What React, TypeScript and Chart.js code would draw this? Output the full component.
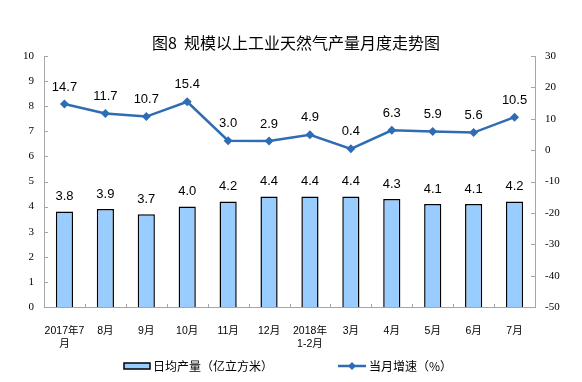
import React, { useEffect, useRef } from "react";
import { Chart, registerables } from "chart.js";

Chart.register(...registerables);

const categories: (string | string[])[] = [
  ["2017年7", "月"], "8月", "9月", "10月", "11月", "12月",
  ["2018年", "1-2月"], "3月", "4月", "5月", "6月", "7月",
];
const dailyOutput = [3.8, 3.9, 3.7, 4.0, 4.2, 4.4, 4.4, 4.4, 4.3, 4.1, 4.1, 4.2];
const growthRate = [14.7, 11.7, 10.7, 15.4, 3.0, 2.9, 4.9, 0.4, 6.3, 5.9, 5.6, 10.5];
const leftMin = 0;
const leftMax = 10;
const rightMin = -50;
const rightMax = 30;
const titleText = "图8  规模以上工业天然气产量月度走势图";
const barLabel = "日均产量（亿立方米）";
const lineLabel = "当月增速（%）";

const BAR_COLOR = "#99CCFF";
const LINE_COLOR = "#2E6DB4";
const AXIS_COLOR = "#A6A6A6";
const CJK = "'Noto Sans CJK SC', 'Liberation Sans', sans-serif";

const decorPlugin = {
  id: "decor",
  afterDraw(chart: any) {
    const { ctx, chartArea } = chart;
    const y = chart.scales.y;
    const y1 = chart.scales.y1;
    ctx.save();

    // inward tick marks
    ctx.strokeStyle = AXIS_COLOR;
    ctx.lineWidth = 1;
    ctx.beginPath();
    y.ticks.forEach((t: any) => {
      const py = Math.round(y.getPixelForValue(t.value)) + 0.5;
      ctx.moveTo(chartArea.left, py);
      ctx.lineTo(chartArea.left + 4, py);
    });
    y1.ticks.forEach((t: any) => {
      const py = Math.round(y1.getPixelForValue(t.value)) + 0.5;
      ctx.moveTo(chartArea.right, py);
      ctx.lineTo(chartArea.right - 4, py);
    });
    const n = categories.length;
    for (let i = 0; i <= n; i++) {
      const px = Math.round(chartArea.left + ((chartArea.right - chartArea.left) * i) / n) + 0.5;
      ctx.moveTo(px, chartArea.bottom);
      ctx.lineTo(px, chartArea.bottom - 3);
    }
    ctx.stroke();

    // data labels
    ctx.fillStyle = "#000";
    ctx.textAlign = "center";
    ctx.textBaseline = "middle";
    ctx.font = "13px 'Liberation Sans', Arial, sans-serif";
    const barMeta = chart.getDatasetMeta(0);
    barMeta.data.forEach((el: any, i: number) => {
      ctx.fillText(dailyOutput[i].toFixed(1), el.x, el.y - 15);
    });
    const lineMeta = chart.getDatasetMeta(1);
    lineMeta.data.forEach((el: any, i: number) => {
      ctx.fillText(growthRate[i].toFixed(1), el.x, el.y - 17);
    });

    // title
    ctx.font = "normal 16px " + CJK;
    ctx.fillText(titleText, 296, 43);

    // legend
    ctx.textAlign = "left";
    ctx.font = "12px " + CJK;
    ctx.fillStyle = BAR_COLOR;
    ctx.fillRect(124, 363, 26, 6);
    ctx.strokeStyle = "#000";
    ctx.lineWidth = 1.5;
    ctx.strokeRect(124, 363, 26, 6);
    ctx.fillStyle = "#000";
    ctx.fillText(barLabel, 153, 366);

    ctx.strokeStyle = LINE_COLOR;
    ctx.lineWidth = 2.5;
    ctx.beginPath();
    ctx.moveTo(338, 366);
    ctx.lineTo(366, 366);
    ctx.stroke();
    ctx.fillStyle = LINE_COLOR;
    ctx.beginPath();
    ctx.moveTo(352, 362);
    ctx.lineTo(356, 366);
    ctx.lineTo(352, 370);
    ctx.lineTo(348, 366);
    ctx.closePath();
    ctx.fill();
    ctx.fillStyle = "#000";
    ctx.fillText(lineLabel, 369, 366);

    ctx.restore();
  },
};

export default function App() {
  const ref = useRef<HTMLCanvasElement | null>(null);

  useEffect(() => {
    if (!ref.current) return;
    const chart = new Chart(ref.current, {
      type: "bar",
      data: {
        labels: categories as any,
        datasets: [
          {
            type: "bar",
            label: barLabel,
            data: dailyOutput,
            backgroundColor: BAR_COLOR,
            borderColor: "#000",
            borderWidth: 1.5,
            yAxisID: "y",
            categoryPercentage: 1,
            barPercentage: 0.42,
            order: 2,
          } as any,
          {
            type: "line",
            label: lineLabel,
            data: growthRate,
            borderColor: LINE_COLOR,
            backgroundColor: LINE_COLOR,
            borderWidth: 2.5,
            pointStyle: "rectRot",
            pointRadius: 4.5,
            pointBorderWidth: 0,
            pointBackgroundColor: LINE_COLOR,
            tension: 0,
            yAxisID: "y1",
            order: 1,
          } as any,
        ],
      },
      options: {
        animation: false,
        responsive: true,
        maintainAspectRatio: false,
        layout: { padding: { top: 56, left: 0, right: 0, bottom: 0 } },
        plugins: {
          legend: { display: false },
          title: { display: false },
          tooltip: { enabled: false },
        },
        scales: {
          x: {
            grid: { display: false },
            border: { display: true, color: AXIS_COLOR, width: 1 },
            ticks: {
              color: "#000",
              font: { family: "'Liberation Sans', 'Noto Sans CJK SC', sans-serif", size: 10.5, lineHeight: 1.3 },
              padding: 9,
              maxRotation: 0,
              autoSkip: false,
            },
            afterFit(scale: any) {
              scale.height = 75;
            },
          },
          y: {
            position: "left",
            min: leftMin,
            max: leftMax,
            grid: { display: false, drawTicks: false },
            border: { display: true, color: AXIS_COLOR, width: 1 },
            ticks: {
              stepSize: 1,
              color: "#000",
              padding: 10,
              font: { family: "'Liberation Serif', serif", size: 11 },
            },
            afterFit(scale: any) {
              scale.width = 44;
            },
          },
          y1: {
            position: "right",
            min: rightMin,
            max: rightMax,
            grid: { display: false, drawTicks: false },
            border: { display: true, color: AXIS_COLOR, width: 1 },
            ticks: {
              stepSize: 10,
              color: "#000",
              padding: 10,
              font: { family: "'Liberation Serif', serif", size: 11 },
            },
            afterFit(scale: any) {
              scale.width = 47;
            },
          },
        },
      } as any,
      plugins: [decorPlugin],
    });
    return () => chart.destroy();
  }, []);

  return (
    <div style={{ position: "fixed", left: 0, top: 0, width: 582, height: 382, background: "#fff" }}>
      <canvas ref={ref} />
    </div>
  );
}
